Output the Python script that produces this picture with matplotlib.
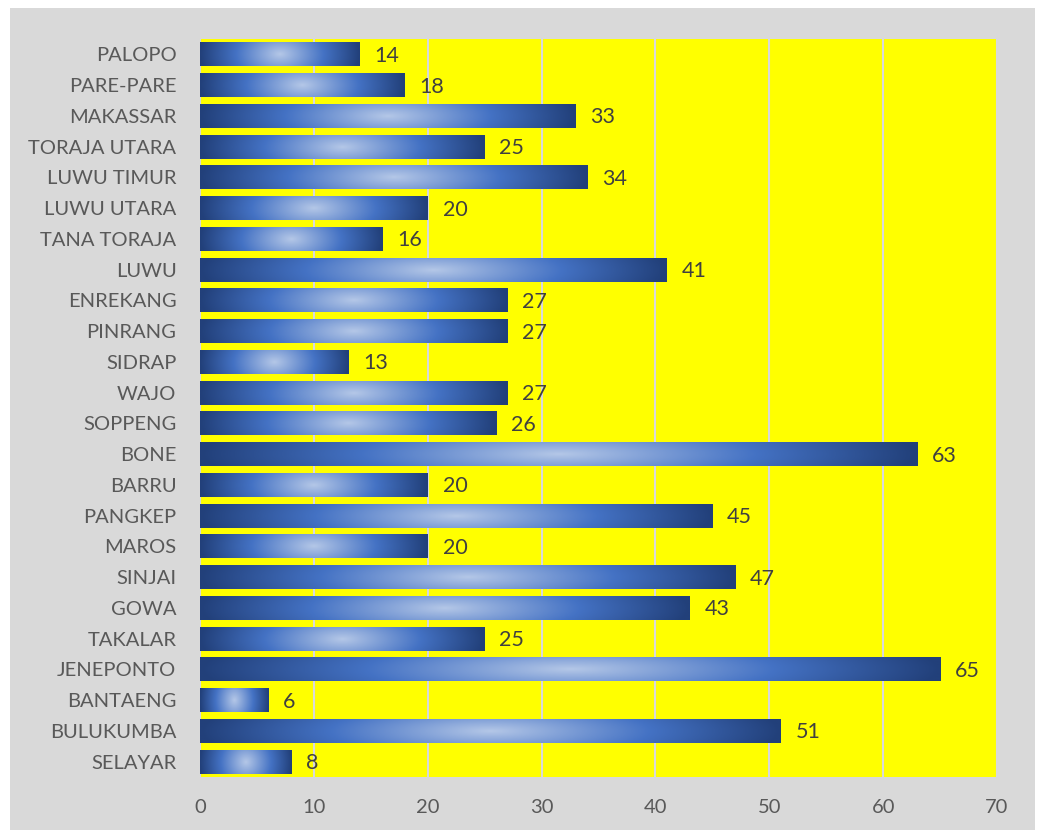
import numpy as np
import matplotlib
matplotlib.use("Agg")
import matplotlib.pyplot as plt
from matplotlib.colors import LinearSegmentedColormap
from matplotlib.patches import Rectangle

categories = ["PALOPO", "PARE-PARE", "MAKASSAR", "TORAJA UTARA", "LUWU TIMUR",
              "LUWU UTARA", "TANA TORAJA", "LUWU", "ENREKANG", "PINRANG", "SIDRAP",
              "WAJO", "SOPPENG", "BONE", "BARRU", "PANGKEP", "MAROS", "SINJAI",
              "GOWA", "TAKALAR", "JENEPONTO", "BANTAENG", "BULUKUMBA", "SELAYAR"]
values = [14, 18, 33, 25, 34, 20, 16, 41, 27, 27, 13, 27, 26, 63, 20, 45, 20, 47,
          43, 25, 65, 6, 51, 8]
xticks = [0, 10, 20, 30, 40, 50, 60, 70]

plt.rcParams['font.family'] = ['Lato', 'DejaVu Sans']

fig = plt.figure(figsize=(10.41, 8.34), dpi=100)
fig.patch.set_facecolor('white')
fig.patches.append(Rectangle((10/1041, 4/834), 1025/1041, 822/834,
                             transform=fig.transFigure, facecolor='#D9D9D9',
                             edgecolor='none', zorder=-10))

ax = fig.add_axes([200/1041, 1 - 777/834, 797/1041, 738/834])
ax.set_facecolor('#FFFF00')

y = np.arange(len(categories))
bars = ax.barh(y, values, height=0.78, color='none', edgecolor='none', zorder=3)

cmap = LinearSegmentedColormap.from_list(
    'grad', [(0.0, '#B4C7E7'), (0.55, '#4472C4'), (1.0, '#22407A')])

nx, ny = 300, 40
for b in bars:
    x0, y0 = b.get_x(), b.get_y()
    w, h = b.get_width(), b.get_height()
    u = np.linspace(-1, 1, nx)
    v = np.linspace(-1, 1, ny)
    U, V = np.meshgrid(u, v)
    D = np.sqrt(U**2 + (0.25 * V)**2)
    D = np.clip(D, 0, 1)
    im = ax.imshow(D, cmap=cmap, vmin=0, vmax=1, aspect='auto',
                   extent=(x0, x0 + w, y0, y0 + h), origin='lower',
                   interpolation='bilinear', zorder=3)
    im.set_clip_path(b)

for yi, val in zip(y, values):
    ax.text(val + 1.3, yi + 0.05, str(val), va='center', ha='left', fontsize=15.5,
            color='#404040', zorder=4)

ax.set_xlim(0, 70)
ax.set_ylim(len(categories) - 0.5, -0.5)
ax.set_xticks(xticks)
ax.set_yticks(y)
ax.set_yticklabels(categories)
ax.tick_params(axis='both', length=0, labelsize=14.5, colors='#595959')
ax.tick_params(axis='y', pad=17)
ax.tick_params(axis='x', pad=16)
ax.xaxis.grid(True, color='#D9D9D9', linewidth=1.5, zorder=1)
ax.set_axisbelow(True)
for s in ax.spines.values():
    s.set_visible(False)

fig.savefig('out.png', dpi=100, facecolor=fig.get_facecolor())
